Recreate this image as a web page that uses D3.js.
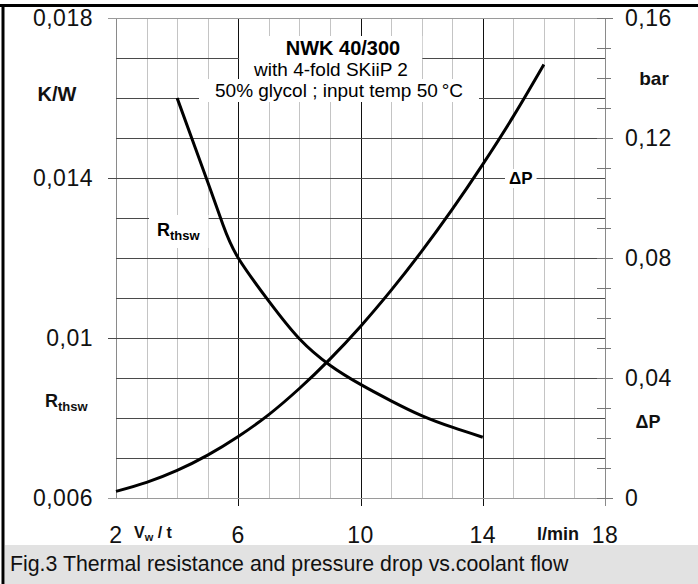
<!DOCTYPE html>
<html>
<head>
<meta charset="utf-8">
<script src="https://cdn.jsdelivr.net/npm/d3@7"></script>
<style>
  body { margin: 0; background: #fff; }
  svg { display: block; font-family: "Liberation Sans", Arial, sans-serif; }
</style>
</head>
<body>
<svg></svg>
<script>
// chart values
const xTicks = [2, 6, 10, 14, 18];
const leftTicks = [0.018, 0.014, 0.01, 0.006];
const leftLabels = ["0,018", "0,014", "0,01", "0,006"];
const rightTicks = [0.16, 0.12, 0.08, 0.04, 0];
const rightLabels = ["0,16", "0,12", "0,08", "0,04", "0"];

// R_thsw (K/W) vs flow (l/min)
const rthFlow = [4, 4.5, 5, 5.5, 6, 7, 8, 9, 10, 11, 12, 13, 14];
const rthsw = [0.0160, 0.01495, 0.0139, 0.01283, 0.0120, 0.01092, 0.00998, 0.00932, 0.00884, 0.00843, 0.00806, 0.00777, 0.00752];

// pressure drop (bar) vs flow (l/min)
const dpFlow = [2, 3, 4, 5, 6, 7, 8, 9, 10, 11, 12, 13, 14, 15, 16];
const dp = [0.0022, 0.0052, 0.0092, 0.0143, 0.0205, 0.0278, 0.0365, 0.0463, 0.0572, 0.0692, 0.0822, 0.0962, 0.1112, 0.1272, 0.1445];

drawChart();

function drawChart() {
    const W = 698, H = 584;
    const svg = d3.select("svg").attr("width", W).attr("height", H);

    const x = d3.scaleLinear().domain([2, 18]).range([116, 605]);
    const yL = d3.scaleLinear().domain([0.006, 0.018]).range([498, 18]);
    const yR = d3.scaleLinear().domain([0, 0.16]).range([498, 18]);

    //frame + caption band
    svg.append("rect").attr("x", 5).attr("y", 545).attr("width", W - 5).attr("height", H - 545).attr("fill", "#e2e2e2");
    svg.append("line").attr("x1", 0).attr("x2", W).attr("y1", 5.5).attr("y2", 5.5).attr("stroke", "#000").attr("stroke-width", 3);
    svg.append("line").attr("x1", 3).attr("x2", 3).attr("y1", 4).attr("y2", H).attr("stroke", "#000").attr("stroke-width", 3);
    svg.append("text").attr("x", 10).attr("y", 571).attr("font-size", 21.3).attr("fill", "#111")
        .text("Fig.3 Thermal resistance and pressure drop vs.coolant flow");

    const grid = svg.append("g").attr("shape-rendering", "crispEdges");

    //vertical grid
    d3.range(2, 19).forEach(v => {
        const major = xTicks.includes(v);
        const edge = v === 2 || v === 18;
        grid.append("line")
            .attr("x1", Math.round(x(v)) + 0.5).attr("x2", Math.round(x(v)) + 0.5)
            .attr("y1", yL(0.018)).attr("y2", major && v !== 2 ? 506 : yL(0.006))
            .attr("stroke", edge ? "#8a8a8a" : (major ? "#111" : "#c4c4c4"));
    });

    //horizontal grid
    d3.range(6, 19).forEach(k => {
        const v = k / 1000;
        const major = leftTicks.some(t => Math.abs(t - v) < 1e-9);
        const edge = k === 6 || k === 18;
        grid.append("line")
            .attr("x1", major ? 108 : x(2)).attr("x2", x(18))
            .attr("y1", Math.round(yL(v)) + 0.5).attr("y2", Math.round(yL(v)) + 0.5)
            .attr("stroke", edge ? "#9a9a9a" : "#4a4a4a");
    });

    //right axis ticks every 0.01 bar
    d3.range(0, 17).forEach(i => {
        const v = i / 100;
        const major = rightTicks.some(t => Math.abs(t - v) < 1e-9);
        grid.append("line")
            .attr("x1", 597).attr("x2", major ? 613 : 611)
            .attr("y1", Math.round(yR(v)) + 0.5).attr("y2", Math.round(yR(v)) + 0.5)
            .attr("stroke", "#777");
    });

    //white boxes behind labels inside the plot
    const boxes = svg.append("g");
    const labels = svg.append("g");

    function boxed(sel, pad) {
        const b = sel.node().getBBox();
        boxes.append("rect")
            .attr("x", b.x - pad[0]).attr("y", b.y - pad[1])
            .attr("width", b.width + 2 * pad[0]).attr("height", b.height + 2 * pad[1])
            .attr("fill", "#fff");
    }

    const t1 = labels.append("text").attr("x", 343).attr("y", 55).attr("text-anchor", "middle")
        .attr("font-size", 20).attr("font-weight", "bold").text("NWK 40/300");
    const t2 = labels.append("text").attr("x", 331).attr("y", 76).attr("text-anchor", "middle")
        .attr("font-size", 19).text("with 4-fold SKiiP 2");
    const t3 = labels.append("text").attr("x", 339).attr("y", 97).attr("text-anchor", "middle")
        .attr("font-size", 19).text("50% glycol ; input temp 50\u2009°C");
    boxed(t1, [22, 1]);
    boxed(t2, [14, 1]);
    boxed(t3, [16, 1]);

    const dpIn = labels.append("text").attr("x", 509).attr("y", 184)
        .attr("font-size", 17).attr("font-weight", "bold").text("ΔP");
    boxed(dpIn, [4, 0]);

    const rIn = labels.append("text").attr("x", 157).attr("y", 236).attr("font-size", 18).attr("font-weight", "bold");
    rIn.append("tspan").text("R");
    rIn.append("tspan").attr("font-size", 13).attr("dy", 4).text("thsw");
    boxed(rIn, [8, 5]);

    //curves
    const rLine = d3.line().curve(d3.curveNatural).x(d => x(d[0])).y(d => yL(d[1]));
    const pLine = d3.line().curve(d3.curveCatmullRom.alpha(0.5)).x(d => x(d[0])).y(d => yR(d[1]));
    svg.append("path")
        .attr("d", rLine(rthFlow.map((f, i) => [f, rthsw[i]])))
        .attr("fill", "none").attr("stroke", "#000").attr("stroke-width", 3);
    svg.append("path")
        .attr("d", pLine(dpFlow.map((f, i) => [f, dp[i]])))
        .attr("fill", "none").attr("stroke", "#000").attr("stroke-width", 3);
    labels.raise();

    //axis labels
    const ax = svg.append("g").attr("font-size", 23).attr("fill", "#111").attr("letter-spacing", 0.5);
    leftTicks.forEach((v, i) => {
        ax.append("text").attr("x", 93).attr("y", yL(v)).attr("dy", "0.36em")
            .attr("text-anchor", "end").text(leftLabels[i]);
    });
    rightTicks.forEach((v, i) => {
        ax.append("text").attr("x", 625).attr("y", yR(v)).attr("dy", "0.36em").text(rightLabels[i]);
    });
    xTicks.forEach(v => {
        ax.append("text").attr("x", x(v)).attr("y", 543).attr("text-anchor", "middle").text(v);
    });

    //units and names
    const u = svg.append("g").attr("font-weight", "bold").attr("fill", "#111");
    u.append("text").attr("x", 57).attr("y", 101).attr("text-anchor", "middle").attr("font-size", 20).text("K/W");
    u.append("text").attr("x", 654).attr("y", 85).attr("text-anchor", "middle").attr("font-size", 19).text("bar");
    u.append("text").attr("x", 648).attr("y", 428).attr("text-anchor", "middle").attr("font-size", 18).text("ΔP");

    const rOut = u.append("text").attr("x", 45).attr("y", 407).attr("font-size", 18);
    rOut.append("tspan").text("R");
    rOut.append("tspan").attr("font-size", 13).attr("dy", 4).text("thsw");

    const vw = u.append("text").attr("x", 134).attr("y", 538).attr("font-size", 16);
    vw.append("tspan").text("V");
    vw.append("tspan").attr("font-size", 11).attr("dy", 3).text("w");
    vw.append("tspan").attr("dy", -3).text(" / t");

    u.append("text").attr("x", 537).attr("y", 540).attr("font-size", 18).text("l/min");
}
</script>
</body>
</html>
